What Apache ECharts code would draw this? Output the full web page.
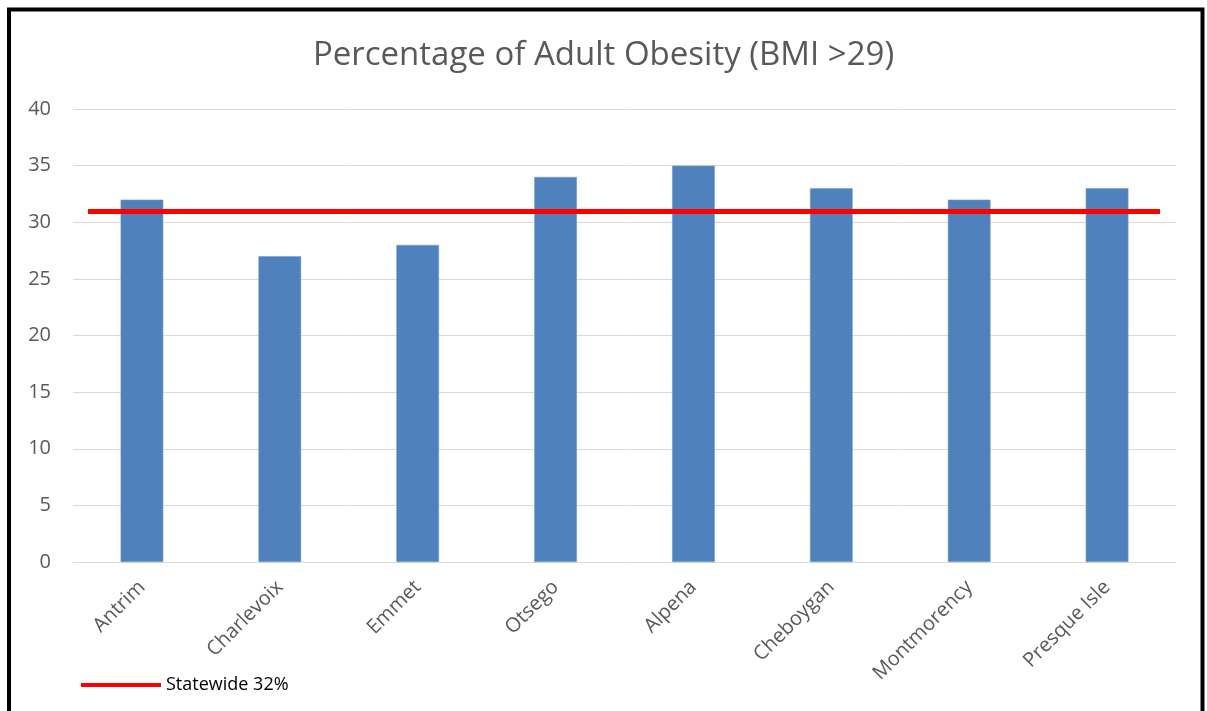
<!DOCTYPE html>
<html>
<head>
<meta charset="utf-8">
<script src="https://cdn.jsdelivr.net/npm/echarts@6/dist/echarts.min.js"></script>
<style>
  html, body { margin: 0; padding: 0; background: #ffffff; }
  #chart { width: 1207px; height: 711px; }
</style>
</head>
<body>
<div id="chart"></div>
<script>
const counties = ['Antrim', 'Charlevoix', 'Emmet', 'Otsego', 'Alpena', 'Cheboygan', 'Montmorency', 'Presque Isle']
const obesity = [32, 27, 28, 34, 35, 33, 32, 33]
const statewideName = 'Statewide 32%'
const statewideLevel = 31
const yTicks = [0, 5, 10, 15, 20, 25, 30, 35, 40]

const chart = echarts.init(document.getElementById('chart'))

const font = 'Open Sans, sans-serif'

const option = {
  animation: false,
  title: {
    text: 'Percentage of Adult Obesity (BMI >29)',
    left: 'center',
    top: 34,
    textStyle: { color: '#595959', fontSize: 33, fontWeight: 'normal', fontFamily: font }
  },
  legend: {
    data: [statewideName],
    left: 76,
    top: 671,
    icon: 'rect',
    itemWidth: 80,
    itemHeight: 4,
    itemGap: 10,
    textStyle: { color: '#000000', fontSize: 18, fontFamily: font }
  },
  grid: { left: 73, right: 31, top: 109, bottom: 149, containLabel: false },
  xAxis: {
    type: 'category',
    data: counties,
    axisLine: { lineStyle: { color: '#D9D9D9', width: 1 } },
    axisTick: { show: false },
    axisLabel: { rotate: 45, color: '#595959', fontSize: 20, margin: 22, fontFamily: font }
  },
  yAxis: {
    type: 'value',
    min: yTicks[0],
    max: yTicks[yTicks.length - 1],
    interval: 5,
    axisLine: { show: false },
    axisTick: { show: false },
    splitLine: { lineStyle: { color: '#D9D9D9', width: 1 } },
    axisLabel: { color: '#595959', fontSize: 20, margin: 22, fontFamily: font }
  },
  graphic: [{
    type: 'rect',
    shape: { x: 9, y: 9.5, width: 1193.5, height: 730 },
    style: { fill: 'none', stroke: '#000000', lineWidth: 4 },
    silent: true
  }],
  series: [
    {
      name: 'Obesity',
      type: 'bar',
      data: obesity,
      barWidth: '31%',
      itemStyle: { color: '#4F81BD', borderColor: '#7A9FCF', borderWidth: 0.6 }
    },
    {
      name: statewideName,
      type: 'line',
      data: [],
      color: '#FF0000',
      lineStyle: { color: '#FF0000', width: 5 },
      markLine: {
        silent: true,
        symbol: ['none', 'none'],
        label: { show: false },
        lineStyle: { color: '#FF0000', width: 5, type: 'solid' },
        data: [[{ x: 88, yAxis: statewideLevel }, { x: 1160, yAxis: statewideLevel }]]
      }
    }
  ]
}

chart.setOption(option)
window.addEventListener('resize', () => chart.resize())
</script>
</body>
</html>
